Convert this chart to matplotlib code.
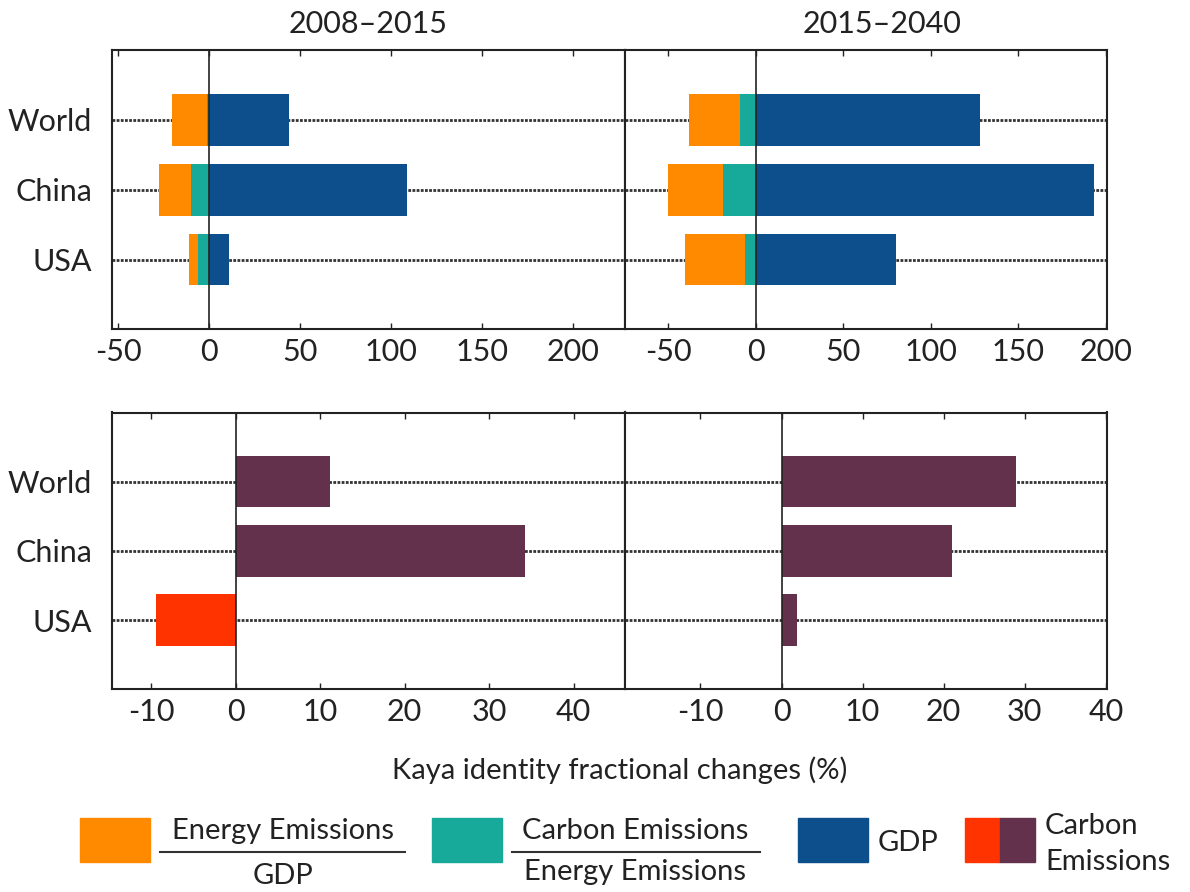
import matplotlib
matplotlib.use("Agg")
import matplotlib.pyplot as plt
from matplotlib.patches import Rectangle
from matplotlib.lines import Line2D
import numpy as np

plt.rcParams['font.family'] = ['Lato', 'DejaVu Sans']

# ---- data ----
regions = ["World", "China", "USA"]
periods = ["2008\u20132015", "2015\u20132040"]

# Kaya factors (% change) per period, order: World, China, USA
energy_per_gdp = {
    "2008\u20132015": [-19.0, -17.3, -5.2],
    "2015\u20132040": [-29.0, -31.8, -34.7],
}
carbon_per_energy = {
    "2008\u20132015": [-1.5, -10.2, -6.0],
    "2015\u20132040": [-9.0, -18.5, -5.9],
}
gdp_change = {
    "2008\u20132015": [44.0, 108.5, 10.6],
    "2015\u20132040": [128.0, 193.5, 80.2],
}
carbon_emissions = {
    "2008\u20132015": [11.2, 34.2, -9.5],
    "2015\u20132040": [28.9, 21.0, 1.9],
}

top_ticks = [-50, 0, 50, 100, 150, 200]
bottom_ticks = [-10, 0, 10, 20, 30, 40]

# ---- style ----
C_ORANGE = "#FF8A00"
C_TEAL = "#17AA9B"
C_BLUE = "#0C4F8C"
C_PURPLE = "#64314D"
C_RED = "#FF3300"
FS = 22
TXT = "#222222"

W, H = 1190, 892
fig = plt.figure(figsize=(W / 100, H / 100), dpi=100)


def px_axes(x0, y0, x1, y1):
    return fig.add_axes([x0 / W, 1 - y1 / H, (x1 - x0) / W, (y1 - y0) / H])


ax_tl = px_axes(111.7, 50, 625, 329.5)
ax_tr = px_axes(625, 50, 1106.7, 329.5)
ax_bl = px_axes(111.7, 412.5, 625, 689.3)
ax_br = px_axes(625, 412.5, 1106.7, 689.3)

ypos = np.arange(len(regions))[::-1]  # World top
bh = 0.74


def style(ax, xlim, ticks, show_labels):
    ax.set_xlim(*xlim)
    ax.set_ylim(-1.0, 3.0)
    ax.set_xticks(ticks)
    ax.set_xticklabels([str(t) for t in ticks], fontsize=FS, color=TXT)
    ax.tick_params(axis="x", direction="in", top=True, bottom=True,
                   length=4, width=1, pad=6, colors=TXT, labelcolor=TXT)
    ax.set_yticks(ypos)
    if show_labels:
        ax.set_yticklabels(regions, fontsize=FS, color=TXT)
    else:
        ax.set_yticklabels([])
    ax.tick_params(axis="y", length=0, pad=14)
    ax.grid(axis="y", linestyle=(0, (1, 0.5)), color="#333333", linewidth=2.0, zorder=0)
    ax.set_axisbelow(True)
    ax.axvline(0, color=TXT, linewidth=1.2, zorder=3)
    for s in ax.spines.values():
        s.set_color(TXT)
        s.set_linewidth(1.5)


for ax, p, xlim, lab, tx in [(ax_tl, periods[0], (-53.6, 228.4), True, 0.5),
                             (ax_tr, periods[1], (-74.7, 200.6), False, 0.534)]:
    ce = np.array(carbon_per_energy[p])
    eg = np.array(energy_per_gdp[p])
    g = np.array(gdp_change[p])
    ax.barh(ypos, ce, height=bh, color=C_TEAL, zorder=2)
    ax.barh(ypos, eg, left=ce, height=bh, color=C_ORANGE, zorder=2)
    ax.barh(ypos, g, height=bh, color=C_BLUE, zorder=2)
    style(ax, xlim, top_ticks, lab)
    ax.set_title(p, fontsize=FS, color=TXT, pad=12, x=tx)

for ax, p, xlim, lab in [(ax_bl, periods[0], (-14.7, 46.1), True),
                         (ax_br, periods[1], (-19.3, 40.1), False)]:
    v = np.array(carbon_emissions[p])
    cols = [C_RED if x < 0 else C_PURPLE for x in v]
    ax.barh(ypos, v, height=bh, color=cols, zorder=2)
    style(ax, xlim, bottom_ticks, lab)

fig.text(620 / W, 1 - 770 / H, "Kaya identity fractional changes (%)",
         fontsize=FS - 1, ha="center", va="center", color=TXT)

# ---- legend ----
def fpx(x, y):
    return x / W, 1 - y / H


def rect(x0, y0, x1, y1, color):
    fig.patches.append(Rectangle(fpx(x0, y1), (x1 - x0) / W, (y1 - y0) / H,
                                 transform=fig.transFigure, color=color, zorder=5))


LFS = 21
rect(80, 818, 150, 862, C_ORANGE)
fig.text(*fpx(283, 831), "Energy Emissions", fontsize=LFS, ha="center", va="center", color=TXT)
fig.lines.append(Line2D([160 / W, 405 / W], [1 - 852 / H] * 2, transform=fig.transFigure,
                        color="#333333", linewidth=1.5))
fig.text(*fpx(283, 876), "GDP", fontsize=LFS, ha="center", va="center", color=TXT)

rect(432, 818, 502, 862, C_TEAL)
fig.text(*fpx(635, 831), "Carbon Emissions", fontsize=LFS, ha="center", va="center", color=TXT)
fig.lines.append(Line2D([512 / W, 760 / W], [1 - 852 / H] * 2, transform=fig.transFigure,
                        color="#333333", linewidth=1.5))
fig.text(*fpx(635, 872), "Energy Emissions", fontsize=LFS, ha="center", va="center", color=TXT)

rect(798, 818, 868, 862, C_BLUE)
fig.text(*fpx(878, 843), "GDP", fontsize=LFS, ha="left", va="center", color=TXT)

rect(965, 818, 1000, 862, C_RED)
rect(1000, 818, 1035, 862, C_PURPLE)
fig.text(*fpx(1045, 826), "Carbon", fontsize=LFS, ha="left", va="center", color=TXT)
fig.text(*fpx(1045, 862), "Emissions", fontsize=LFS, ha="left", va="center", color=TXT)

fig.savefig("out.png", dpi=100)
